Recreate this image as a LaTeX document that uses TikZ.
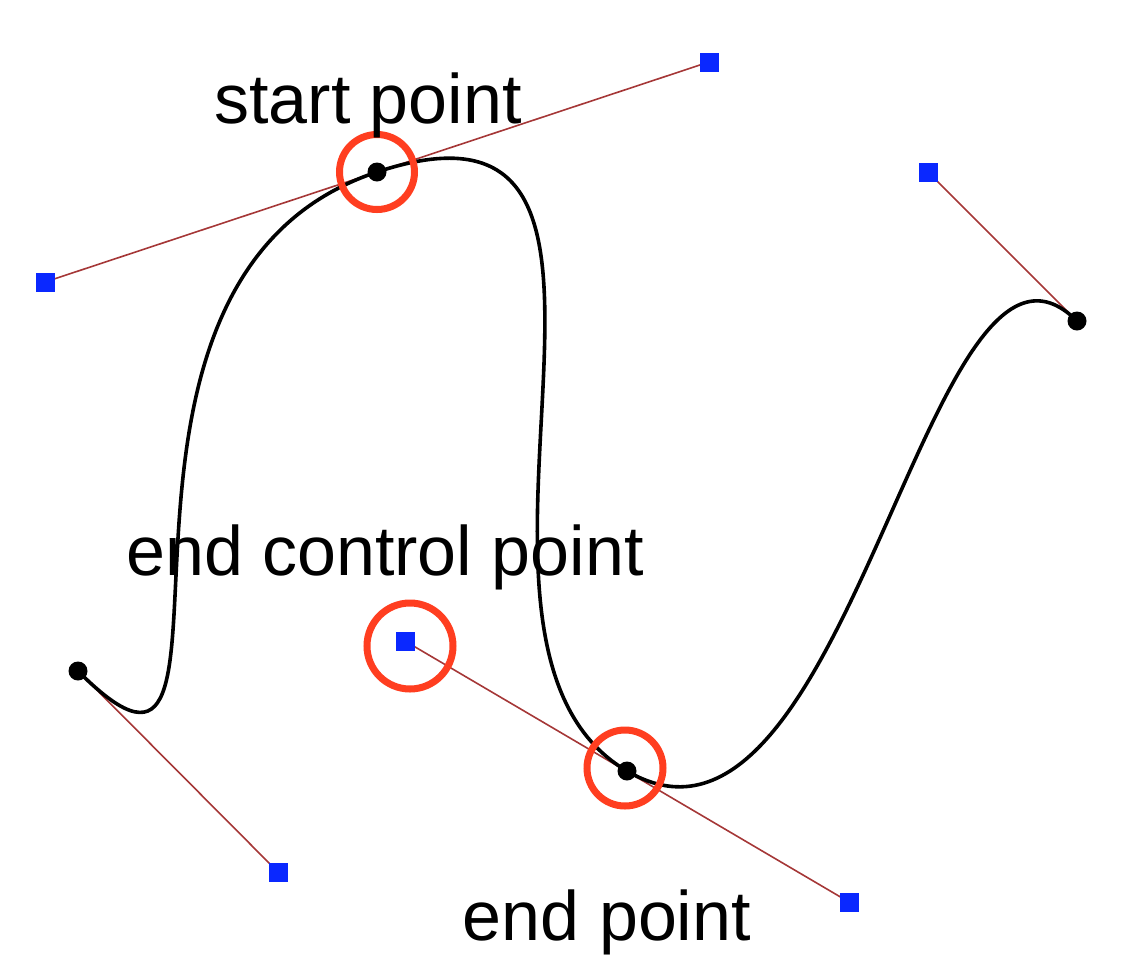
\documentclass[tikz,border=0pt]{standalone}
\usepackage{fontspec}
\setmainfont{Liberation Sans}
\definecolor{handlecol}{RGB}{165,55,55}
\definecolor{ctrlblue}{RGB}{10,40,255}
\definecolor{ringred}{RGB}{255,62,32}
\begin{document}
\begin{tikzpicture}[x=0.5pt,y=-0.5pt,
  handle/.style={draw=handlecol,line width=0.8pt},
  curveline/.style={draw=black,line width=1.8pt},
  ctrlsq/.style={fill=ctrlblue,draw=none,minimum size=9.5pt,inner sep=0pt,rectangle},
  anchordot/.style={fill=black,draw=none,circle,minimum size=9.5pt,inner sep=0pt},
  ring/.style={draw=ringred,line width=3.5pt,circle,inner sep=0pt},
  lbl/.style={font=\fontsize{35}{42}\selectfont,anchor=base,inner sep=0pt}]
\useasboundingbox (0,0) rectangle (1142,966);
% anchor and control coordinates
\coordinate (a1) at (78,671);
\coordinate (a2) at (377,172);
\coordinate (a3) at (627,771);
\coordinate (a4) at (1077,321);
\coordinate (c1) at (278,872);
\coordinate (c2) at (45,282);
\coordinate (c3) at (709,62);
\coordinate (c4) at (405,641);
\coordinate (c5) at (849,902);
\coordinate (c6) at (928,172);
% handles
\draw[handle] (a1) -- (c1);
\draw[handle] (c2) -- (c3);
\draw[handle] (c4) -- (c5);
\draw[handle] (a4) -- (c6);
% curve
\draw[curveline] (a1) .. controls (c1) and (c2) .. (a2)
  .. controls (c3) and (c4) .. (a3)
  .. controls (c5) and (c6) .. (a4);
% control squares
\foreach \c in {c1,c2,c3,c4,c5,c6} \node[ctrlsq] (sq\c) at (\c) {};
% anchor dots
\foreach \a in {a1,a2,a3,a4} \node[anchordot] (dot\a) at (\a) {};
% rings
\node[ring,minimum size=37.5pt] (r1) at (377,172) {};
\node[ring,minimum size=43pt] (r2) at (410,646) {};
\node[ring,minimum size=38pt] (r3) at (625,768) {};
% labels
\node[lbl] (l1) at (368,123) {start point};
\node[lbl] (l2) at (385,575) {end control point};
\node[lbl] (l3) at (607,940) {end point};
\end{tikzpicture}
\end{document}
